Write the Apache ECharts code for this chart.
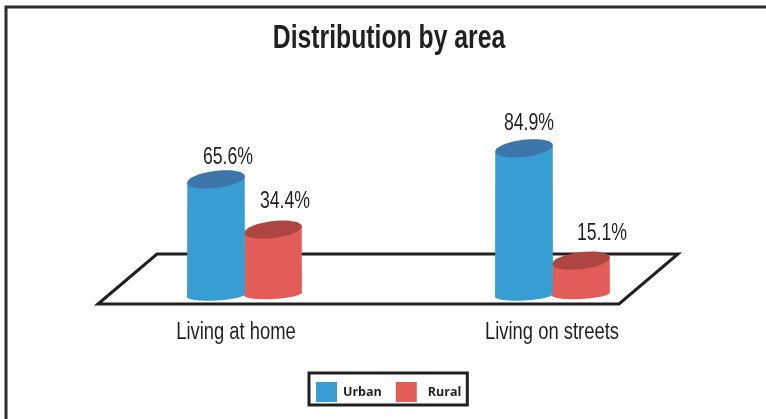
<!DOCTYPE html>
<html>
<head>
<meta charset="utf-8">
<script src="https://cdn.jsdelivr.net/npm/echarts@6/dist/echarts.min.js"></script>
<style>
  html, body { margin: 0; padding: 0; background: #fff; }
  #main { width: 766px; height: 419px; }
</style>
</head>
<body>
<div id="main"></div>
<script>
var categories = ["Living at home", "Living on streets"];
var urban = [65.6, 84.9];
var rural = [34.4, 15.1];

var font = "'Liberation Sans', sans-serif";
var ink = "#231f20";

// tilted ellipse, t in radians
function ellipsePoint(cx, cy, a, b, t, tilt) {
  var r = tilt * Math.PI / 180;
  return [
    cx + a * Math.cos(t) * Math.cos(r) - b * Math.sin(t) * Math.sin(r),
    cy + a * Math.cos(t) * Math.sin(r) + b * Math.sin(t) * Math.cos(r),
  ];
}

// no condensed font is installed, so squeeze the text instead
function narrowText(x, y, text, size, squeeze, weight) {
  return {
    type: "text",
    x: x,
    y: y,
    scaleX: squeeze,
    style: {
      x: 0,
      y: 0,
      text: text,
      fill: ink,
      font: (weight || "normal") + " " + size + "px " + font,
      align: "center",
      verticalAlign: "middle",
    },
  };
}

// shift: bar centre offset, baseY: how far the foot sits under the zero line
function cylinder(shift, side, topColor, baseY, labelNudge) {
  return function (params, api) {
    var p = api.coord([api.value(0), api.value(1)]);
    var zero = api.coord([api.value(0), 0]);
    var cx = p[0] + shift;
    var a = api.size([1, 0])[0] * 0.094;
    var b = 8.5;
    var body = [];
    var top = [];
    var i;
    // walk the lower half of the foot, then back over the top
    for (i = 0; i <= 24; i++) {
      body.push(ellipsePoint(cx, zero[1] + baseY, a, 5, (i / 24) * Math.PI, -3));
    }
    body.push(ellipsePoint(cx, p[1], a, b, Math.PI, -7));
    body.push(ellipsePoint(cx, p[1], a, b, 0, -7));
    for (i = 0; i < 48; i++) {
      top.push(ellipsePoint(cx, p[1], a, b, (i / 48) * Math.PI * 2, -7));
    }
    var nudge = labelNudge[params.dataIndex];
    return {
      type: "group",
      children: [
        { type: "polygon", shape: { points: body }, style: { fill: side } },
        { type: "polygon", shape: { points: top }, style: { fill: topColor } },
        narrowText(cx + nudge[0], p[1] + nudge[1], api.value(1).toFixed(1) + "%", 23, 0.77),
      ],
    };
  };
}

var labelShift = [-9, -1];

var chart = echarts.init(document.getElementById("main"));
chart.setOption({
  animation: false,
  backgroundColor: "#fff",
  legend: {
    left: 309,
    top: 373,
    padding: [9, 6, 3, 7],
    itemGap: 14,
    itemWidth: 21,
    itemHeight: 20,
    borderColor: ink,
    borderWidth: 3,
    icon: "rect",
    data: [
      { name: "Urban", textStyle: { padding: [0, 0, 0, 1] } },
      { name: "Rural", textStyle: { padding: [0, 0, 0, 6] } },
    ],
    textStyle: { fontFamily: "'Open Sans', sans-serif", fontSize: 12.5, fontWeight: "bold", color: ink },
  },
  grid: { left: 91, right: 59, top: 124, bottom: 134 },
  xAxis: {
    type: "category",
    data: categories,
    axisLine: { show: false },
    axisTick: { show: false },
    axisLabel: { show: false },
  },
  yAxis: { type: "value", min: 0, max: 100, show: false },
  graphic: [
    {
      type: "rect",
      z: -2,
      shape: { x: 6, y: 7, width: 790, height: 440 },
      style: { fill: "none", stroke: "#2b2b2b", lineWidth: 3 },
    },
    {
      type: "polygon",
      z: -1,
      shape: { points: [[98, 304], [157, 254], [678, 254], [619, 304]] },
      style: { fill: "none", stroke: ink, lineWidth: 3 },
    },
    narrowText(389, 39, "Distribution by area", 33, 0.75, "bold"),
  ],
  series: [
    {
      name: "Rural",
      type: "custom",
      clip: false,
      itemStyle: { color: "#e25d58" },
      encode: { x: 0, y: 1 },
      data: rural.map(function (v, i) { return [i, v]; }),
      renderItem: cylinder(28, "#e25d58", "#ae4541", 9, [[12, -28], [21, -27]]),
    },
    {
      name: "Urban",
      type: "custom",
      clip: false,
      z: 3,
      itemStyle: { color: "#389dd2" },
      encode: { x: 0, y: 1 },
      data: urban.map(function (v, i) { return [i, v]; }),
      renderItem: cylinder(-29, "#389dd2", "#3d76aa", 10.5, [[12, -22], [5, -25]]),
    },
    {
      // category names, drawn here so they can be squeezed like the rest
      type: "custom",
      clip: false,
      silent: true,
      encode: { x: 0, y: 1 },
      data: categories.map(function (c, i) { return [i, 0]; }),
      renderItem: function (params, api) {
        var p = api.coord([api.value(0), 0]);
        return narrowText(p[0] + labelShift[params.dataIndex], p[1] + 48, categories[params.dataIndex], 23, 0.8);
      },
    },
  ],
});
</script>
</body>
</html>
